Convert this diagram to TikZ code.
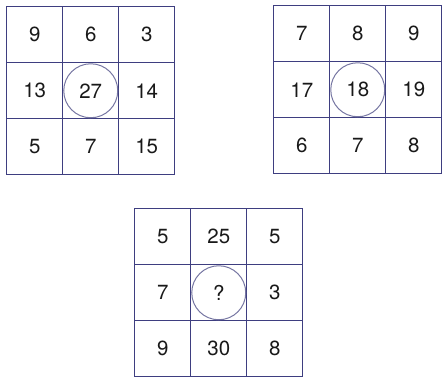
\documentclass[tikz,border=0pt]{standalone}
\usepackage{fontspec}
\setmainfont{TeX Gyre Heros}
\usetikzlibrary{positioning,matrix}
\definecolor{gridblue}{RGB}{62,62,128}
\definecolor{ringblue}{RGB}{118,118,162}
\tikzset{
  puzzle/.style={matrix of nodes, ampersand replacement=\amp, anchor=north west,
                 row sep=-1.1pt, column sep=-1.1pt, inner sep=0pt,
                 nodes={draw=gridblue, line width=1.1pt, minimum size=56pt, inner sep=0pt,
                        anchor=center, font=\fontsize{20.5}{20.5}\selectfont, text=black!90}},
  ring/.style={circle, draw=ringblue, line width=1pt, minimum size=54pt, inner sep=0pt}
}

\begin{document}
\begin{tikzpicture}[x=1pt, y=-1pt]
\useasboundingbox (0,0) rectangle (442,378);
\matrix (g1) [puzzle, at={(6,6)}] {
  9 \amp 6 \amp 3 \\
  13 \amp 27 \amp 14 \\
  5 \amp 7 \amp 15 \\
};
\matrix (g2) [puzzle, at={(273,5)}] {
  7 \amp 8 \amp 9 \\
  17 \amp 18 \amp 19 \\
  6 \amp 7 \amp 8 \\
};
\matrix (g3) [puzzle, at={(134,208)}] {
  5 \amp 25 \amp 5 \\
  7 \amp ? \amp 3 \\
  9 \amp 30 \amp 8 \\
};
% circled centre cells
\node[ring] (r1) at (g1-2-2) {};
\node[ring] (r2) at (g2-2-2) {};
\node[ring] (r3) at (g3-2-2) {};
\end{tikzpicture}
\end{document}
